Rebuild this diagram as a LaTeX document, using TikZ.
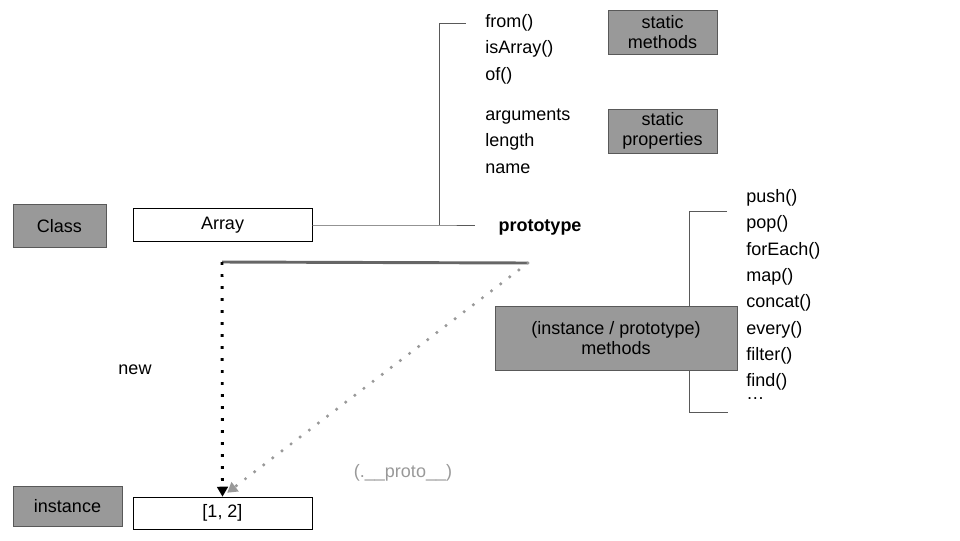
\documentclass[tikz,border=0pt]{standalone}
\usepackage{fontspec}
\setmainfont{Liberation Sans}
\usepackage{tikz}
\usetikzlibrary{arrows.meta, positioning}
\definecolor{tagGray}{RGB}{153, 153, 153}
\definecolor{edgeGray}{RGB}{89, 89, 89}
\definecolor{barGray}{RGB}{102, 102, 102}
\definecolor{protoGray}{RGB}{153, 153, 153}

\begin{document}
\begin{tikzpicture}[x=0.75pt, y=-0.75pt,
  node distance=6.3pt,
  font=\fontsize{13.5}{16}\selectfont,
  tag/.style={rectangle, draw=edgeGray, fill=tagGray, inner sep=0pt,
              align=center, font=\fontsize{13.5}{15}\selectfont},
  val/.style={rectangle, draw=black, fill=white, inner sep=0pt,
              minimum width=134.25pt, text height=10pt, text depth=3pt},
  item/.style={inner sep=0pt, text height=10pt, text depth=3pt,
               anchor=north west},
  under/.style={below=of #1.south west, anchor=north west},
  wire/.style={draw=edgeGray, line width=0.6pt},
  newarrow/.style={-{Triangle[length=7.5pt, width=8pt]}, black,
                   line width=2.2pt, dash pattern=on 2.2pt off 6.8pt},
  protoarrow/.style={-{Triangle[length=7.5pt, width=8.5pt]}, protoGray,
                     line width=2.6pt, line cap=round,
                     dash pattern=on 0pt off 8.6pt},
]
  \useasboundingbox (0,0) rectangle (960,540);

  % class and instance
  \node[tag, minimum width=69.75pt, minimum height=32.25pt] (cls) at (59.5,226) {Class};
  \node[val, minimum height=24.75pt] (arr) at (222.5,225) {Array};
  \node[tag, minimum width=81.75pt, minimum height=30pt] (ins) at (67.5,506) {instance};
  \node[val, minimum height=24pt] (lit) at (222.5,513) {[1, 2]};

  % static members
  \node[item, anchor=west] (from) at (485,23) {from()};
  \node[item, under=from] (isarr) {isArray()};
  \node[item, under=isarr] (of) {of()};
  \node[item, anchor=west] (args) at (485,116) {arguments};
  \node[item, under=args] (len) {length};
  \node[item, under=len] (name) {name};
  \node[tag, minimum width=81.75pt, minimum height=33pt] (smeth) at (662.5,32) {static\\methods};
  \node[tag, minimum width=81.75pt, minimum height=33pt] (sprop) at (662.5,131) {static\\properties};

  \node[inner sep=0pt, font=\fontsize{13.5}{16}\selectfont\bfseries] (proto) at (540,227) {prototype};

  % instance methods
  \coordinate (brtop) at (689,211);
  \coordinate (brbot) at (689,412);
  \node[item, anchor=west] (push) at (746,198) {push()};
  \node[item, under=push] (pop) {pop()};
  \node[item, under=pop] (each) {forEach()};
  \node[item, under=each] (map) {map()};
  \node[item, under=map] (cat) {concat()};
  \node[item, under=cat] (every) {every()};
  \node[item, under=every] (filt) {filter()};
  \node[item, under=filt] (find) {find()};
  \node[inner sep=0pt, anchor=west] (etc) at (746,399) {\ldots};
  \draw[wire] ([xshift=-14.25pt]pop.west |- brtop) -- (brtop) -- (brbot)
    -- ([xshift=-13.5pt]pop.west |- brbot);
  \node[tag, minimum width=181.5pt, minimum height=48pt] (imeth) at (616,338)
    {(instance / prototype)\\methods};

  % Array to its members
  \coordinate (elbow) at (439,225);
  \draw[wire] (arr.east) -- (elbow) -- ([xshift=-17.25pt]elbow -| proto.west);
  \draw[wire] (elbow) |- ([xshift=-14.25pt]from.west);

  % new and __proto__
  \coordinate (barL) at (222,262);
  \coordinate (barR) at (528,263);
  \draw[barGray, line width=2.2pt] (barL) -- (barR);
  \draw[newarrow] (barL) -- (lit.north);
  \draw[protoarrow] (barR) -- ([xshift=3.5pt, yshift=3pt]lit.north);
  \node[inner sep=0pt] (new) at (135,370) {new};
  \node[inner sep=0pt, protoGray] (plbl) at (403,473) {(.\_\_proto\_\_)};
\end{tikzpicture}
\end{document}
